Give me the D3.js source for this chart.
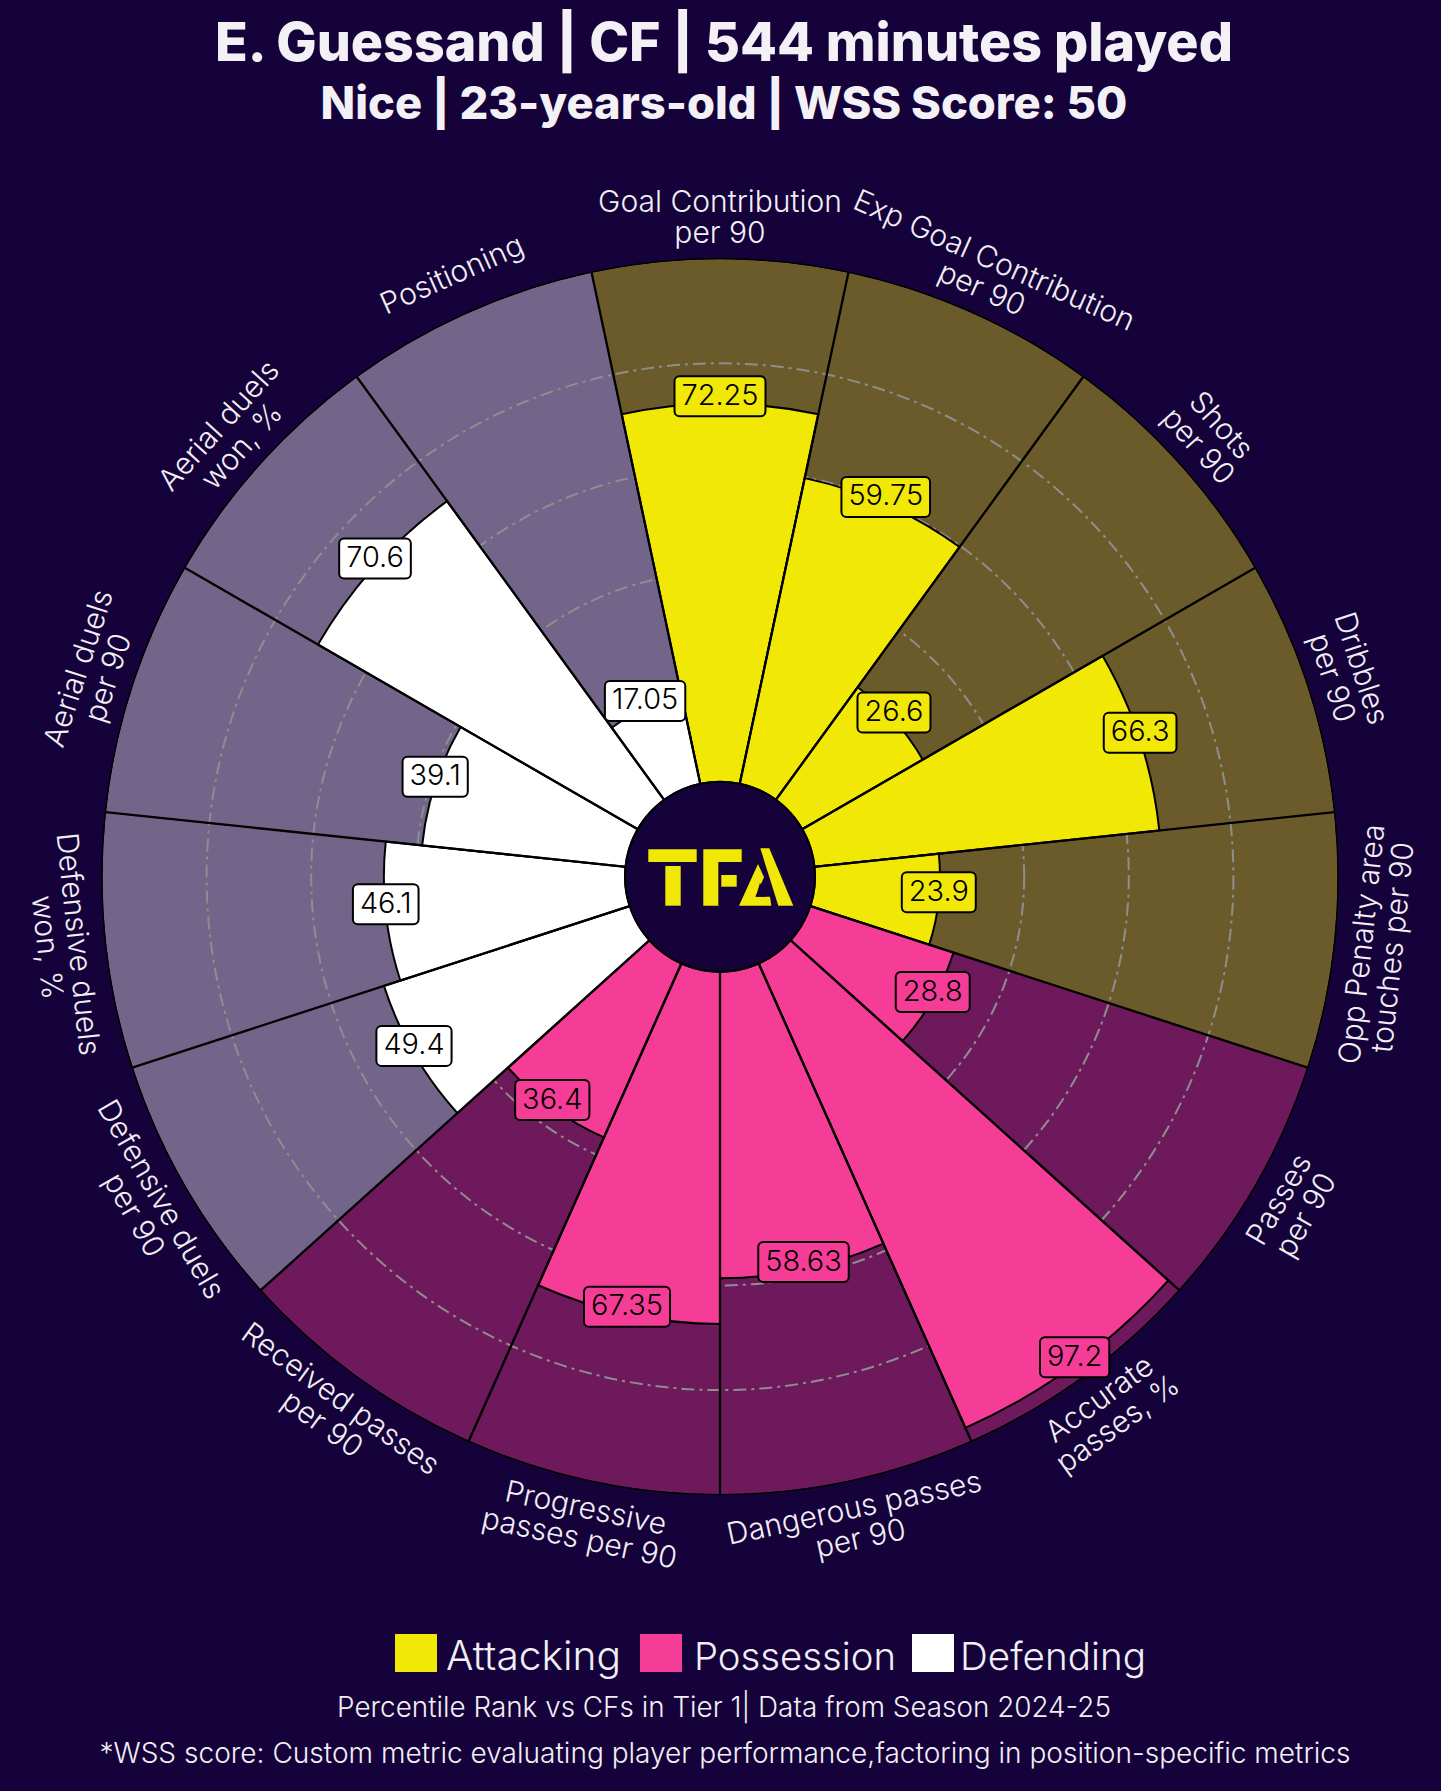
<!DOCTYPE html>
<html><head><meta charset="utf-8">
<script src="https://cdn.jsdelivr.net/npm/d3@7"></script>
<style>
html,body{margin:0;padding:0;background:#16023a;}
svg{display:block;}
</style></head>
<body><svg id="chart" width="1441" height="1791"></svg>
<script>
// ---------------- data ----------------
const params = [
  "Goal Contribution\nper 90",
  "Exp Goal Contribution\nper 90",
  "Shots\nper 90",
  "Dribbles\nper 90",
  "Opp Penalty area\ntouches per 90",
  "Passes\nper 90",
  "Accurate\npasses, %",
  "Dangerous passes\nper 90",
  "Progressive\npasses per 90",
  "Received passes\nper 90",
  "Defensive duels\nper 90",
  "Defensive duels\nwon, %",
  "Aerial duels\nper 90",
  "Aerial duels\nwon, %",
  "Positioning"
];
const values = [72.25, 59.75, 26.6, 66.3, 23.9, 28.8, 97.2, 58.63, 67.35, 36.4, 49.4, 46.1, 39.1, 70.6, 17.05];
const groups = ["Attacking","Attacking","Attacking","Attacking","Attacking",
                "Possession","Possession","Possession","Possession","Possession",
                "Defending","Defending","Defending","Defending","Defending"];
const legendLabels = ["Attacking", "Possession", "Defending"];
const gridTicks = [20, 40, 60, 80];
const titleText = "E. Guessand | CF | 544 minutes played";
const subtitleText = "Nice | 23-years-old | WSS Score: 50";
const footer1 = "Percentile Rank vs CFs in Tier 1| Data from Season 2024-25";
const footer2 = "*WSS score: Custom metric evaluating player performance,factoring in position-specific metrics";

// ---------------- styles ----------------
const BG = "#16023a";
const barColor = d3.scaleOrdinal().domain(legendLabels).range(["#F1E806", "#F53C96", "#FFFFFF"]);
const slotColor = d3.scaleOrdinal().domain(legendLabels).range(["#6C5B2A", "#6D195C", "#726589"]);
const TXT = "#F1EFF5";
const FONT = "Inter, 'Noto Sans', sans-serif";

const svg = d3.select("#chart");
svg.append("rect").attr("width", 1441).attr("height", 1791).attr("fill", BG);

const cx = 720, cy = 876.7, R = 618, r0 = 95;
const n = params.length;
const step = 2 * Math.PI / n;
const rScale = d3.scaleLinear().domain([0, 100]).range([r0, R]);
const ang = i => i * step;

const g = svg.append("g").attr("transform", `translate(${cx},${cy})`);

// background slots
const arcBg = d3.arc().innerRadius(r0).outerRadius(rScale(100))
  .startAngle((d, i) => ang(i) - step / 2).endAngle((d, i) => ang(i) + step / 2);
g.selectAll("path.slot").data(values).join("path").attr("class", "slot")
  .attr("d", arcBg)
  .attr("fill", (d, i) => slotColor(groups[i]))
  .attr("stroke", "#000").attr("stroke-width", 1);

// grid circles
g.selectAll("circle.grid").data(gridTicks).join("circle").attr("class", "grid")
  .attr("r", d => rScale(d)).attr("fill", "none")
  .attr("stroke", "#8e8e8e").attr("stroke-width", 2)
  .attr("stroke-dasharray", "13 5 3 5");

// value bars
const arcBar = d3.arc().innerRadius(r0).outerRadius(d => rScale(d))
  .startAngle((d, i) => ang(i) - step / 2).endAngle((d, i) => ang(i) + step / 2);
g.selectAll("path.bar").data(values).join("path").attr("class", "bar")
  .attr("d", arcBar)
  .attr("fill", (d, i) => barColor(groups[i]))
  .attr("stroke", "#000").attr("stroke-width", 2);

// straight lines
g.selectAll("line.spoke").data(values).join("line").attr("class", "spoke")
  .attr("x1", (d, i) => r0 * Math.sin(ang(i) - step / 2))
  .attr("y1", (d, i) => -r0 * Math.cos(ang(i) - step / 2))
  .attr("x2", (d, i) => rScale(100) * Math.sin(ang(i) - step / 2))
  .attr("y2", (d, i) => -rScale(100) * Math.cos(ang(i) - step / 2))
  .attr("stroke", "#000").attr("stroke-width", 2.3);

// outer circle
g.append("circle").attr("r", rScale(100)).attr("fill", "none").attr("stroke", "#000").attr("stroke-width", 1.3);

// center hole
g.append("circle").attr("r", r0).attr("fill", BG).attr("stroke", "#000").attr("stroke-width", 2);

// TFA logo
const logo = g.append("g").attr("fill", "#F1E806");
const P = pts => "M" + pts.map(p => [(p[0] / 3 - 160).toFixed(1), (p[1] / 3 - 136.7).toFixed(1)].join(",")).join("L") + "Z";
logo.append("path").attr("d", P([[265,328],[410,328],[410,366],[265,366]]));
logo.append("path").attr("d", P([[316,378],[362,378],[362,497],[316,497]]));
logo.append("path").attr("d", P([[430,328],[545,328],[545,366],[475,366],[475,497],[430,497]]));
logo.append("path").attr("d", P([[484,405],[530,405],[530,440],[484,440]]));
logo.append("path").attr("d", P([[601,325],[628,325],[700,497],[655,497]]));
logo.append("path").attr("d", P([[594,372],[612,412],[586,470],[630,470],[634,497],[537,497]]));
logo.append("path").attr("fill", BG).attr("d", P([[600,428],[618,470],[588,470]]));

// value labels
const vl = g.selectAll("g.val").data(values).join("g").attr("class", "val")
  .attr("transform", (d, i) => `translate(${rScale(d) * Math.sin(ang(i))},${-rScale(d) * Math.cos(ang(i)) - 7.5})`);
const vRect = vl.append("rect");
const vText = vl.append("text").text(d => d)
  .attr("font-family", FONT).attr("font-weight", 300).attr("font-size", 29).attr("fill", "#000")
  .attr("text-anchor", "middle").attr("dominant-baseline", "central").attr("y", -2);
{
  const w = vText.filter((d, i) => i === 0).node().getComputedTextLength();
  vText.attr("font-size", 29 * 77 / w);
}
vRect.each(function(d, i) {
  const w = d3.select(this.parentNode).select("text").node().getComputedTextLength();
  d3.select(this).attr("x", -w / 2 - 7).attr("y", -20).attr("width", w + 14).attr("height", 40)
    .attr("rx", 5).attr("fill", barColor(groups[i])).attr("stroke", "#000").attr("stroke-width", 2);
});

// parameter labels
const LR = 660, LH = 31;
const pl = g.selectAll("g.param").data(params).join("g").attr("class", "param")
  .attr("transform", (d, i) => {
    const a = ang(i) * 180 / Math.PI;
    let rot = a > 180 ? a - 360 : a;
    if (rot > 90) rot -= 180; else if (rot < -90) rot += 180;
    return `translate(${LR * Math.sin(ang(i))},${-LR * Math.cos(ang(i))}) rotate(${rot})`;
  });
const pText = pl.append("text").attr("font-family", FONT).attr("font-weight", 300).attr("font-size", 26).attr("fill", TXT)
  .attr("text-anchor", "middle");
pText.each(function(d) {
  const lines = d.split("\n");
  const t = d3.select(this);
  lines.forEach((ln, k) => {
    t.append("tspan").attr("x", 0).attr("y", (k - (lines.length - 1) / 2) * LH)
      .attr("dominant-baseline", "central").text(ln);
  });
});
{
  const tmp = svg.append("text").attr("font-family", FONT).attr("font-weight", 300).attr("font-size", 26).text("Goal Contribution");
  const w = tmp.node().getComputedTextLength(); tmp.remove();
  pText.attr("font-size", 26 * 244 / w);
}

// titles
function fitText(sel, target) {
  const fs = parseFloat(sel.attr("font-size"));
  const w = sel.node().getComputedTextLength();
  sel.attr("font-size", fs * target / w);
}
const t1 = svg.append("text").attr("x", 724).attr("y", 61).attr("text-anchor", "middle")
  .attr("font-family", FONT).attr("font-weight", 800).attr("font-size", 45).attr("fill", "#F3F1F6").text(titleText);
fitText(t1, 1018);
const t2 = svg.append("text").attr("x", 724).attr("y", 119).attr("text-anchor", "middle")
  .attr("font-family", FONT).attr("font-weight", 800).attr("font-size", 40).attr("fill", "#F3F1F6").text(subtitleText);
fitText(t2, 807);

// legend
const legX = [395, 640, 912], legTX = [446, 694, 960], legW = [175, 202, 186];
const leg = svg.append("g");
legendLabels.forEach((lab, k) => {
  leg.append("rect").attr("x", legX[k]).attr("y", 1634).attr("width", 42).attr("height", 38).attr("fill", barColor(lab));
  const tt = leg.append("text").attr("x", legTX[k]).attr("y", 1670).attr("font-family", FONT).attr("font-weight", 300)
    .attr("font-size", 37).attr("fill", TXT).text(lab);
  fitText(tt, legW[k]);
});

const f1 = svg.append("text").attr("x", 724).attr("y", 1717).attr("text-anchor", "middle")
  .attr("font-family", FONT).attr("font-weight", 300).attr("font-size", 24).attr("fill", TXT).text(footer1);
fitText(f1, 774);
const f2 = svg.append("text").attr("x", 725).attr("y", 1763).attr("text-anchor", "middle")
  .attr("font-family", FONT).attr("font-weight", 300).attr("font-size", 24).attr("fill", TXT).text(footer2);
fitText(f2, 1252);
</script>
</body></html>
